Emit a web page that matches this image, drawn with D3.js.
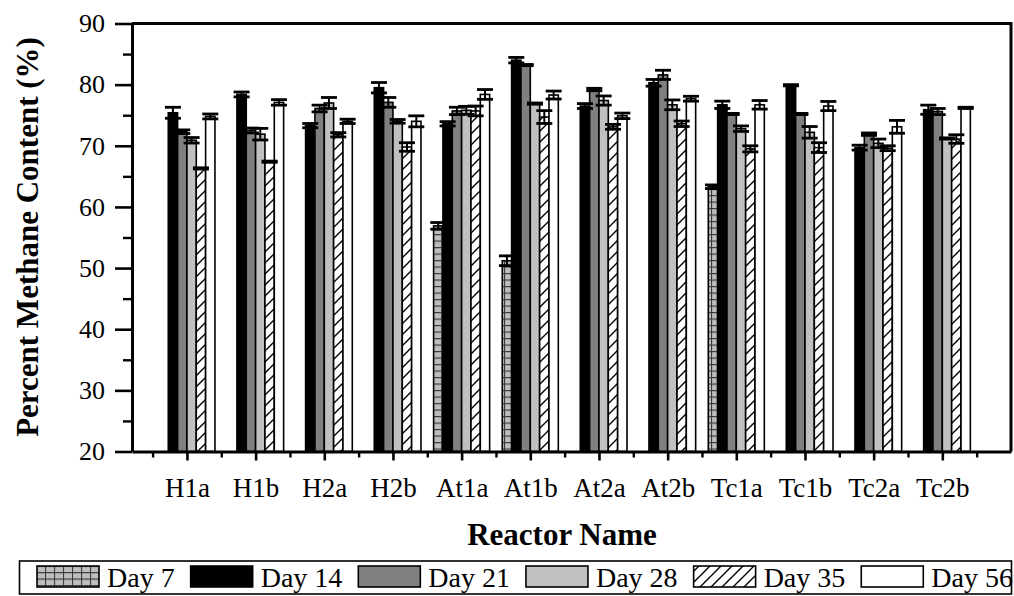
<!DOCTYPE html>
<html>
<head>
<meta charset="utf-8">
<script src="https://cdn.jsdelivr.net/npm/d3@7/dist/d3.min.js"></script>
<style>
  html, body { margin: 0; padding: 0; background: #fff; }
  svg, svg text { font-family: "Liberation Serif", "Times New Roman", serif !important; }
</style>
</head>
<body>
<svg id="chart" width="1014" height="596"></svg>
<script>
// Reactor names along the x axis
const reactors = ["H1a", "H1b", "H2a", "H2b", "At1a", "At1b", "At2a", "At2b", "Tc1a", "Tc1b", "Tc2a", "Tc2b"];

// Sampling days (one bar per day inside each reactor group)
const days = ["Day 7", "Day 14", "Day 21", "Day 28", "Day 35", "Day 56"];

// Methane content (%) for each day, per reactor (null = not measured)
const day7  = [null, null, null, null, 56.9, 51.2, null, null, 63.3, null, null, null];
const day14 = [75.4, 78.4, 73.3, 79.5, 73.6, 84.0, 76.5, 80.3, 76.7, 79.9, 69.7, 75.9];
const day21 = [72.3, 72.5, 76.1, 77.1, 75.7, 83.2, 79.2, 81.6, 75.2, 75.2, 71.9, 75.6];
const day28 = [70.9, 71.9, 77.0, 74.0, 75.8, 76.9, 77.4, 76.7, 72.8, 72.2, 70.4, 71.2];
const day35 = [66.3, 67.4, 71.8, 69.8, 75.7, 74.7, 73.1, 73.6, 69.5, 69.7, 69.6, 71.1];
const day56 = [74.8, 77.1, 74.0, 74.0, 78.4, 78.3, 74.9, 77.7, 76.7, 76.5, 73.1, 76.2];

// Standard deviations shown as error bars
const err7  = [null, null, null, null, 0.55, 0.8, null, null, 0.3, null, null, null];
const err14 = [0.9, 0.4, 0.35, 0.85, 0.35, 0.45, 0.4, 0.55, 0.6, 0.1, 0.4, 0.75];
const err21 = [0.3, 0.4, 0.55, 0.8, 0.6, 0.1, 0.2, 0.75, 0.1, 0.1, 0.2, 0.5];
const err28 = [0.45, 0.95, 0.9, 0.3, 0.65, 0.1, 0.75, 0.8, 0.45, 0.95, 0.7, 0.1];
const err35 = [0.1, 0.1, 0.35, 0.7, 0.8, 1.05, 0.4, 0.45, 0.5, 0.8, 0.4, 0.7];
const err56 = [0.4, 0.45, 0.35, 0.9, 0.8, 0.65, 0.45, 0.4, 0.7, 0.75, 1.05, 0.1];

// Y axis tick values
const yTicks = [20, 30, 40, 50, 60, 70, 80, 90];

const seriesValues = [day7, day14, day21, day28, day35, day56];
const seriesErrors = [err7, err14, err21, err28, err35, err56];
const fills = ["url(#grid)", "#000000", "#808080", "#c0c0c0", "url(#hatch)", "#ffffff"];
const serif = '"Liberation Serif", "Times New Roman", serif';

const svg = d3.select("#chart");
const plot = { left: 132, right: 1011, top: 23.5, bottom: 451.5 };

// Categories sit at 1..12 on a continuous axis running from 0.2 to 13
const x = d3.scaleLinear().domain([0.2, 13]).range([plot.left, plot.right]);
const y = d3.scaleLinear().domain([20, 90]).range([plot.bottom, plot.top]);
const barUnits = 0.136;   // width of one bar in category units

// Fill patterns
const defs = svg.append("defs");
const grid = defs.append("pattern").attr("id", "grid")
  .attr("patternUnits", "userSpaceOnUse").attr("width", 9).attr("height", 6.5);
grid.append("rect").attr("width", 9).attr("height", 6.5).attr("fill", "#bdbdbd");
grid.append("path").attr("d", "M0,0.5H9M0.5,0V6.5").attr("stroke", "#3a3a3a").attr("stroke-width", 1.2);

const hatch = defs.append("pattern").attr("id", "hatch")
  .attr("patternUnits", "userSpaceOnUse").attr("width", 11).attr("height", 11);
hatch.append("rect").attr("width", 11).attr("height", 11).attr("fill", "#fff");
hatch.append("path").attr("d", "M0,11L11,0M-3,3L3,-3M8,14L14,8")
  .attr("stroke", "#000").attr("stroke-width", 1.4);

// Bars and error bars
const barsG = svg.append("g");
const errG = svg.append("g");
seriesValues.forEach((vals, s) => {
  const data = reactors.map((r, i) => ({ i, v: vals[i], e: seriesErrors[s][i] }))
    .filter(d => d.v !== null);
  const left = d => x(d.i + 1 + (s - 3) * barUnits);
  const right = d => x(d.i + 1 + (s - 2) * barUnits);

  barsG.selectAll(null).data(data).enter().append("rect")
    .attr("x", left)
    .attr("y", d => y(d.v))
    .attr("width", d => right(d) - left(d))
    .attr("height", d => y(20) - y(d.v))
    .attr("fill", fills[s])
    .attr("stroke", "#000")
    .attr("stroke-width", 1.6);

  const cx = d => (left(d) + right(d)) / 2;
  errG.selectAll(null).data(data).enter().append("line")
    .attr("x1", cx).attr("x2", cx)
    .attr("y1", d => y(d.v - d.e)).attr("y2", d => y(d.v + d.e))
    .attr("stroke", "#000").attr("stroke-width", 2);
  [1, -1].forEach(sign => {
    errG.selectAll(null).data(data).enter().append("line")
      .attr("x1", d => cx(d) - 8).attr("x2", d => cx(d) + 8)
      .attr("y1", d => y(d.v + sign * d.e)).attr("y2", d => y(d.v + sign * d.e))
      .attr("stroke", "#000").attr("stroke-width", 2.8);
  });
});

// Frame (top and right edges)
svg.append("path")
  .attr("d", `M${plot.left},${plot.top}H${plot.right}V${plot.bottom}`)
  .attr("fill", "none").attr("stroke", "#000").attr("stroke-width", 3);

// Y axis
const yAxis = svg.append("g").attr("transform", `translate(${plot.left},0)`)
  .call(d3.axisLeft(y).tickValues(yTicks).tickSize(17).tickPadding(10).tickSizeOuter(0));
yAxis.attr("font-family", serif);
yAxis.select(".domain").attr("stroke-width", 3);
yAxis.selectAll(".tick line").attr("stroke-width", 2.6);
yAxis.selectAll(".tick text").attr("font-size", 26).attr("fill", "#000");
const yMinor = d3.range(25, 90, 10);
svg.append("g").attr("transform", `translate(${plot.left},0)`)
  .call(d3.axisLeft(y).tickValues(yMinor).tickSize(9).tickFormat(""))
  .call(g => g.select(".domain").remove())
  .selectAll(".tick line").attr("stroke-width", 2.4);

// X axis
const xAxis = svg.append("g").attr("transform", `translate(0,${plot.bottom})`)
  .call(d3.axisBottom(x).tickValues(d3.range(1, 13)).tickSize(9).tickPadding(17)
    .tickSizeOuter(0).tickFormat(d => reactors[d - 1]));
xAxis.attr("font-family", serif);
xAxis.select(".domain").attr("stroke-width", 3);
xAxis.selectAll(".tick line").attr("stroke-width", 2.6);
xAxis.selectAll(".tick text").attr("font-size", 27).attr("fill", "#000");
svg.append("g").attr("transform", `translate(0,${plot.bottom})`)
  .call(d3.axisBottom(x).tickValues(d3.range(0.5, 13, 1)).tickSize(6).tickFormat(""))
  .call(g => g.select(".domain").remove())
  .selectAll(".tick line").attr("stroke-width", 2.4);

// Axis titles
svg.append("text")
  .attr("transform", `translate(38,237) rotate(-90)`)
  .attr("text-anchor", "middle")
  .attr("font-family", serif)
  .attr("font-size", 31).attr("font-weight", "bold")
  .text("Percent Methane Content (%)");
svg.append("text")
  .attr("x", 562).attr("y", 545)
  .attr("text-anchor", "middle")
  .attr("font-family", serif)
  .attr("font-size", 31).attr("font-weight", "bold")
  .text("Reactor Name");

// Legend
const legend = svg.append("g").attr("font-family", serif);
legend.append("rect")
  .attr("x", 19.5).attr("y", 561).attr("width", 992).attr("height", 33)
  .attr("fill", "#fff").attr("stroke", "#000").attr("stroke-width", 1.6);
let lx = 37;
days.forEach((label, s) => {
  legend.append("rect")
    .attr("x", lx).attr("y", 566).attr("width", 62).attr("height", 21)
    .attr("fill", fills[s]).attr("stroke", "#000").attr("stroke-width", 1.6);
  const t = legend.append("text")
    .attr("x", lx + 70).attr("y", 586.5)
    .attr("font-size", 28)
    .text(label);
  lx = lx + 70 + t.node().getComputedTextLength() + 16;
});
</script>
</body>
</html>
